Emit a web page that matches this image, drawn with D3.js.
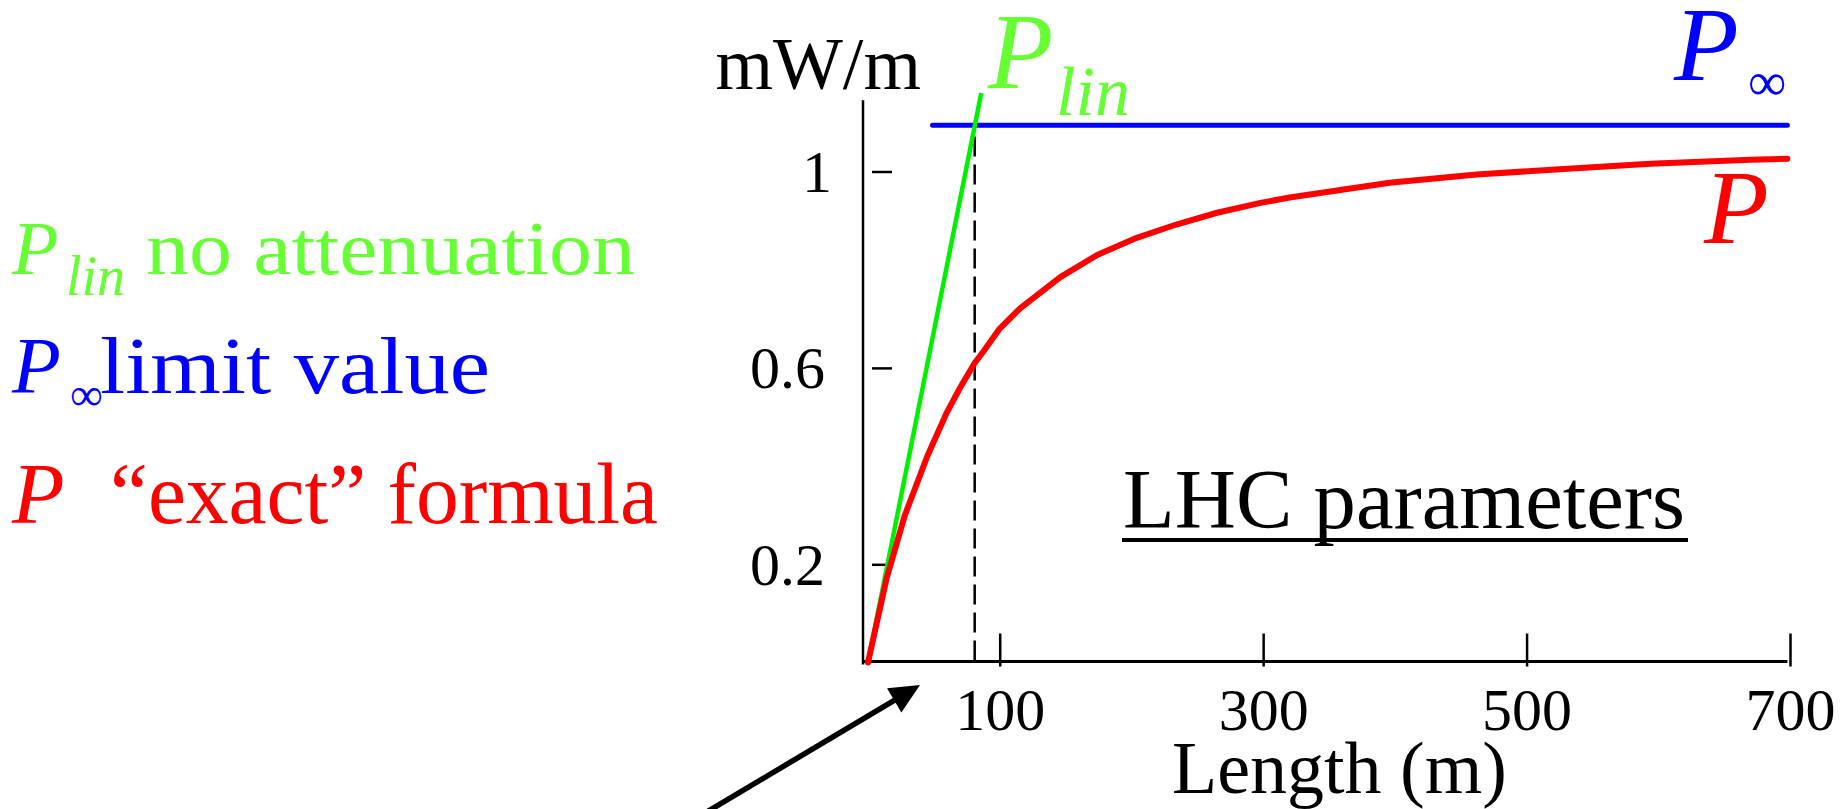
<!DOCTYPE html>
<html>
<head>
<meta charset="utf-8">
<script src="https://cdn.jsdelivr.net/npm/d3@7"></script>
<style>
  body { margin: 0; background: #fff; }
  svg { display: block; font-family: "Liberation Serif", "Times New Roman", serif; }
</style>
</head>
<body>
<svg width="1848" height="809"></svg>
<script>
// values
var lengthTicks = [100, 300, 500, 700];
var powerTicks = [0.2, 0.6, 1];

// P, "exact" formula
var exactLength = [0, 14, 28, 45, 60, 70, 81, 88, 100, 115, 146, 174, 204, 234, 265, 298, 320, 396, 462, 528, 594, 670, 698];
var exactPower = [0, 0.17, 0.30, 0.42, 0.51, 0.56, 0.61, 0.635, 0.68, 0.72, 0.785, 0.83, 0.865, 0.892, 0.916, 0.936, 0.947, 0.977, 0.994, 1.005, 1.016, 1.024, 1.026];

// P_lin, no attenuation
var linLength = [0, 86];
var linPower = [0, 1.16];

// P_inf, limit value
var limitLength = [49, 698];
var limitPower = [1.094, 1.094];

// where P_lin reaches P_inf
var crossLength = 81;

var green = "#66ff33", lineGreen = "#00f000", blue = "#0000ff", red = "#ff0000";

var svg = d3.select("svg");

var x = d3.scaleLinear().domain([0, 700]).range([868, 1790]);
var y = d3.scaleLinear().domain([0, 1]).range([662.5, 171.5]);

var line = d3.line()
    .x(function(d) { return x(d[0]); })
    .y(function(d) { return y(d[1]); });

// axes
svg.append("line")
    .attr("x1", x(0) - 5).attr("x2", x(0) - 5)
    .attr("y1", y(0) + 2).attr("y2", y(1.145))
    .attr("stroke", "#000").attr("stroke-width", 2.5);

svg.append("line")
    .attr("x1", x(0) - 6).attr("x2", x(698))
    .attr("y1", y(0) - 1).attr("y2", y(0) - 1)
    .attr("stroke", "#000").attr("stroke-width", 3);

var xAxis = svg.append("g")
    .attr("transform", "translate(0," + (y(0) - 1) + ")")
    .call(d3.axisBottom(x).tickValues(lengthTicks).tickSize(5).tickFormat(d3.format("d")));
xAxis.select(".domain").remove();
xAxis.selectAll(".tick line").attr("y1", -28).attr("stroke-width", 2.5);
xAxis.selectAll(".tick text")
    .attr("y", 68).attr("dy", 0)
    .style("font-size", "60px").style("font-family", "Liberation Serif")
    .attr("fill", "#000");

var yAxis = svg.append("g")
    .attr("transform", "translate(872,0)")
    .call(d3.axisRight(y).tickValues(powerTicks).tickSize(20).tickFormat(function(d) { return d === 1 ? "1" : d3.format(".1f")(d); }));
yAxis.select(".domain").remove();
yAxis.selectAll(".tick line").attr("stroke-width", 2.5);
yAxis.selectAll(".tick text")
    .attr("x", function(d) { return d === 1 ? -40 : -47; })
    .attr("dy", "0.33em")
    .attr("text-anchor", "end")
    .style("font-size", "60px").style("font-family", "Liberation Serif")
    .attr("fill", "#000");

// dashed marker where P_lin meets P_inf
svg.append("line")
    .attr("x1", x(crossLength)).attr("x2", x(crossLength))
    .attr("y1", y(0) - 2).attr("y2", y(limitPower[0]))
    .attr("stroke", "#000").attr("stroke-width", 2.5)
    .attr("stroke-dasharray", "20,8");

// curves
svg.append("path")
    .datum(d3.zip(limitLength, limitPower))
    .attr("d", line)
    .attr("fill", "none").attr("stroke", blue).attr("stroke-width", 5)
    .attr("stroke-linecap", "round");

svg.append("path")
    .datum(d3.zip(linLength, linPower))
    .attr("d", line)
    .attr("fill", "none").attr("stroke", lineGreen).attr("stroke-width", 4.5);

svg.append("path")
    .datum(d3.zip(exactLength, exactPower))
    .attr("d", line)
    .attr("fill", "none").attr("stroke", red).attr("stroke-width", 6)
    .attr("stroke-linecap", "round").attr("stroke-linejoin", "round");

// text helper
function label(txt, px, py, size, color, opts) {
  opts = opts || {};
  var t = svg.append("text")
      .attr("x", px).attr("y", py)
      .style("font-size", size + "px")
      .attr("fill", color)
      .text(txt);
  if (opts.italic) t.style("font-style", "italic");
  if (opts.anchor) t.attr("text-anchor", opts.anchor);
  if (opts.len) t.attr("textLength", opts.len).attr("lengthAdjust", "spacingAndGlyphs");
  return t;
}

// axis titles
label("mW/m", 921, 89, 74, "#000", { anchor: "end" });
label("Length (m)", 1172, 793, 74, "#000");

// series labels on the plot
label("P", 988, 88, 107, green, { italic: true });
label("lin", 1056, 115, 70, green, { italic: true });
label("P", 1674, 80, 106, blue, { italic: true });
label("\u221e", 1748, 100, 54, blue);
label("P", 1704, 243, 106, red, { italic: true });

// LHC parameters, underlined
label("LHC parameters", 1123, 528, 84, "#000", { len: 562 });
svg.append("line")
    .attr("x1", 1122).attr("x2", 1688)
    .attr("y1", 540).attr("y2", 540)
    .attr("stroke", "#000").attr("stroke-width", 4);

// legend on the left
label("P", 12, 274, 76, green, { italic: true });
label("lin", 66, 295, 56, green, { italic: true });
label("no attenuation", 146, 274, 76, green, { len: 489 });

label("P", 12, 393, 80, blue, { italic: true });
label("\u221e", 70, 410, 46, blue);
label("limit value", 100, 393, 80, blue, { len: 390 });

label("P", 12, 523, 86, red, { italic: true });
label("\u201cexact\u201d formula", 110, 523, 86, red, { len: 548 });

// arrow pointing at the short-length region
var tip = [920, 685], tail = [700, 816];
var ang = Math.atan2(tip[1] - tail[1], tip[0] - tail[0]);
var headLen = 30, headHalf = 14;
var base = [tip[0] - headLen * Math.cos(ang), tip[1] - headLen * Math.sin(ang)];
svg.append("line")
    .attr("x1", tail[0]).attr("y1", tail[1])
    .attr("x2", base[0] + 2 * Math.cos(ang)).attr("y2", base[1] + 2 * Math.sin(ang))
    .attr("stroke", "#000").attr("stroke-width", 5.5);
var p = d3.path();
p.moveTo(tip[0], tip[1]);
p.lineTo(base[0] + headHalf * Math.sin(ang), base[1] - headHalf * Math.cos(ang));
p.lineTo(base[0] - headHalf * Math.sin(ang), base[1] + headHalf * Math.cos(ang));
p.closePath();
svg.append("path").attr("d", p.toString()).attr("fill", "#000");
</script>
</body>
</html>
